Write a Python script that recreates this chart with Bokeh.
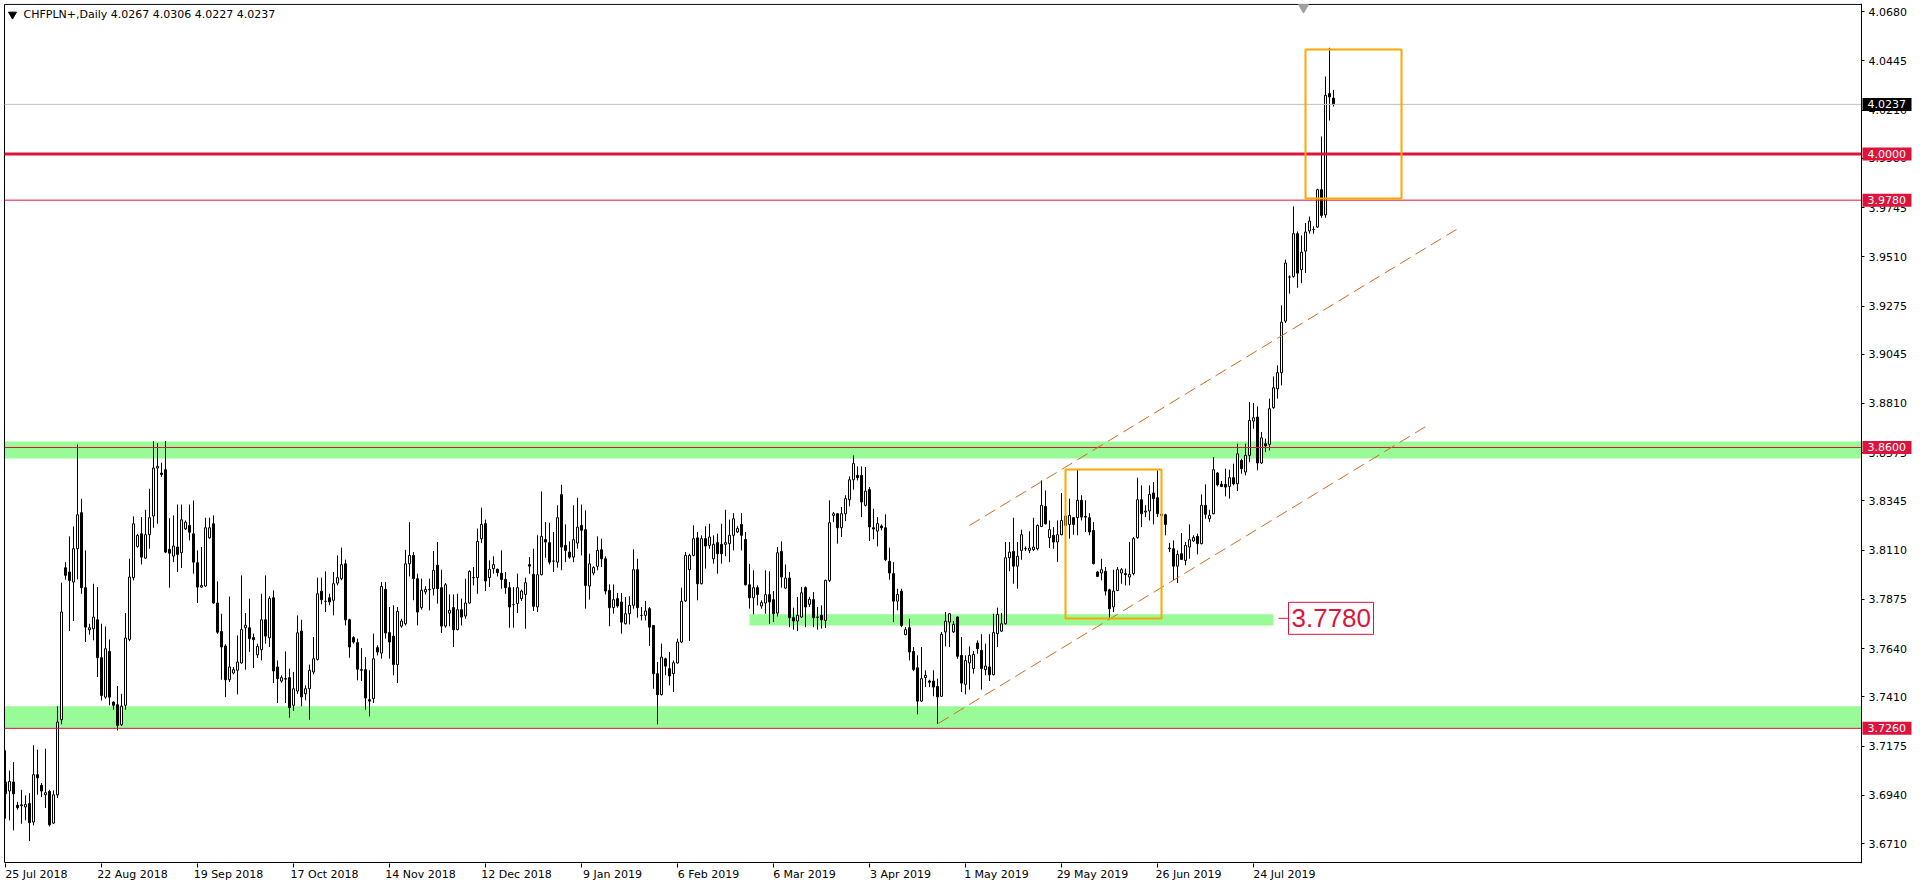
from bokeh.plotting import figure
from bokeh.models import (Range1d, FixedTicker, LinearAxis, BoxAnnotation, Label,
                          ColumnDataSource, PrintfTickFormatter)
from bokeh.core.properties import value
from bokeh.embed import file_html
from bokeh.resources import INLINE

# ---------------- data (CHFPLN+, Daily) ----------------
opens = [
    3.7004, 3.6961, 3.7004, 3.6893, 3.6895, 3.6885, 3.6901, 3.6813, 3.7039, 3.6988,
    3.6943, 3.6959, 3.6808, 3.6943, 3.7301, 3.8026, 3.8006, 3.7958, 3.8117, 3.8289,
    3.7931, 3.7730, 3.7735, 3.7778, 3.7597, 3.7409, 3.7627, 3.7385, 3.7373, 3.7277,
    3.7370, 3.7684, 3.7979, 3.8128, 3.8188, 3.8072, 3.8184, 3.8273, 3.8502, 3.8478,
    3.8494, 3.8114, 3.8082, 3.8125, 3.8098, 3.8212, 3.8228, 3.8188, 3.8050, 3.7934,
    3.7939, 3.8169, 3.8236, 3.7858, 3.7722, 3.7653, 3.7492, 3.7524, 3.7537, 3.7572,
    3.7740, 3.7740, 3.7693, 3.7611, 3.7635, 3.7778, 3.7692, 3.7883, 3.7553, 3.7486,
    3.7497, 3.7502, 3.7370, 3.7438, 3.7724, 3.7425, 3.7449, 3.7529, 3.7589, 3.7914,
    3.7866, 3.7883, 3.7871, 3.7953, 3.7974, 3.8045, 3.7778, 3.7693, 3.7669, 3.7540,
    3.7540, 3.7397, 3.7402, 3.7645, 3.7619, 3.7923, 3.7717, 3.7700, 3.7564, 3.7748,
    3.7759, 3.8045, 3.8085, 3.7974, 3.7836, 3.7911, 3.7921, 3.7926, 3.8038, 3.7931,
    3.7748, 3.7810, 3.7836, 3.7731, 3.7826, 3.7796, 3.7858, 3.7979, 3.7979, 3.8165,
    3.8237, 3.7979, 3.8022, 3.8019, 3.8000, 3.7971, 3.7931, 3.7850, 3.7855, 3.7879,
    3.7899, 3.8041, 3.7995, 3.7839, 3.7993, 3.8161, 3.8146, 3.8058, 3.8053, 3.8375,
    3.8133, 3.8101, 3.8077, 3.8144, 3.8228, 3.8208, 3.7939, 3.8001, 3.8033, 3.8112,
    3.8069, 3.7918, 3.7836, 3.7879, 3.7863, 3.7759, 3.7807, 3.7847, 3.8017, 3.7799,
    3.7799, 3.7831, 3.7751, 3.7521, 3.7421, 3.7592, 3.7545, 3.7521, 3.7572, 3.7672,
    3.7868, 3.8017, 3.8085, 3.8169, 3.7950, 3.8165, 3.8133, 3.8069, 3.8146, 3.8138,
    3.8138, 3.8141, 3.8181, 3.8197, 3.8233, 3.8161, 3.7945, 3.7883, 3.7931, 3.7844,
    3.7858, 3.7898, 3.7874, 3.7810, 3.8104, 3.7929, 3.7977, 3.7788, 3.7772, 3.7791,
    3.7931, 3.7852, 3.7874, 3.7791, 3.7799, 3.7775, 3.7966, 3.8276, 3.8284, 3.8217,
    3.8284, 3.8351, 3.8446, 3.8467, 3.8467, 3.8324, 3.8399, 3.8217, 3.8201, 3.8225,
    3.8217, 3.8057, 3.7998, 3.7867, 3.7914, 3.7707, 3.7740, 3.7627, 3.7549, 3.7390,
    3.7502, 3.7486, 3.7486, 3.7460, 3.7413, 3.7720, 3.7767, 3.7720, 3.7791, 3.7608,
    3.7470, 3.7572, 3.7545, 3.7667, 3.7632, 3.7540, 3.7553, 3.7516, 3.7712, 3.7724,
    3.7759, 3.8074, 3.8104, 3.8034, 3.8109, 3.8117, 3.8109, 3.8112, 3.8117, 3.8223,
    3.8319, 3.8170, 3.8181, 3.8149, 3.8184, 3.8228, 3.8233, 3.8265, 3.8265, 3.8348,
    3.8271, 3.8265, 3.8204, 3.8006, 3.8001, 3.8009, 3.7921, 3.7839, 3.7918, 3.8001,
    3.7998, 3.7982, 3.7998, 3.8170, 3.8351, 3.8292, 3.8297, 3.8383, 3.8360, 3.8281,
    3.8279, 3.8120, 3.8117, 3.8034, 3.8093, 3.8061, 3.8125, 3.8154, 3.8176, 3.8141,
    3.8324, 3.8260, 3.8284, 3.8478, 3.8424, 3.8424, 3.8414, 3.8456, 3.8427, 3.8538,
    3.8483, 3.8562, 3.8726, 3.8745, 3.8526, 3.8618, 3.8615, 3.8790, 3.8880, 3.8957,
    3.9203, 3.9413, 3.9416, 3.9620, 3.9448, 3.9537, 3.9633, 3.9640, 3.9652, 3.9830,
    3.9710, 4.0288, 4.0267,
]
highs = [
    3.7155, 3.7059, 3.7099, 3.6909, 3.6967, 3.6940, 3.6951, 3.7179, 3.7158, 3.6999,
    3.7163, 3.6967, 3.6964, 3.7365, 3.7955, 3.8053, 3.8176, 3.8223, 3.8614, 3.8355,
    3.8109, 3.7759, 3.7950, 3.7934, 3.7759, 3.7746, 3.7684, 3.7389, 3.7462, 3.7425,
    3.7810, 3.8069, 3.8271, 3.8188, 3.8268, 3.8303, 3.8403, 3.8630, 3.8621, 3.8527,
    3.8630, 3.8263, 3.8276, 3.8328, 3.8328, 3.8252, 3.8328, 3.8347, 3.8109, 3.8125,
    3.8265, 3.8265, 3.8276, 3.7961, 3.7807, 3.7661, 3.7889, 3.7553, 3.7703, 3.7990,
    3.7810, 3.7879, 3.7712, 3.7664, 3.7902, 3.7990, 3.7890, 3.7918, 3.7584, 3.7513,
    3.7627, 3.7545, 3.7529, 3.7799, 3.7778, 3.7465, 3.7564, 3.7696, 3.7979, 3.7979,
    3.8009, 3.7902, 3.8006, 3.8085, 3.8122, 3.8065, 3.7783, 3.7699, 3.7688, 3.7643,
    3.7600, 3.7537, 3.7712, 3.7656, 3.7958, 3.7958, 3.7839, 3.7847, 3.7839, 3.7783,
    3.8112, 3.8244, 3.8101, 3.7998, 3.7974, 3.7938, 3.7974, 3.8106, 3.8149, 3.8017,
    3.7953, 3.7899, 3.7899, 3.7902, 3.7879, 3.7974, 3.8014, 3.8030, 3.8213, 3.8313,
    3.8256, 3.8062, 3.8081, 3.8022, 3.8109, 3.8006, 3.7958, 3.7934, 3.7998, 3.7922,
    3.7979, 3.8077, 3.8117, 3.8181, 3.8390, 3.8244, 3.8241, 3.8197, 3.8324, 3.8422,
    3.8233, 3.8152, 3.8324, 3.8360, 3.8328, 3.8300, 3.8093, 3.8033, 3.8176, 3.8165,
    3.8081, 3.7947, 3.7947, 3.7906, 3.7906, 3.7887, 3.7890, 3.8114, 3.8069, 3.7839,
    3.7868, 3.7839, 3.7751, 3.7577, 3.7664, 3.7597, 3.7624, 3.7584, 3.7688, 3.7931,
    3.8101, 3.8093, 3.8229, 3.8197, 3.8181, 3.8224, 3.8236, 3.8181, 3.8189, 3.8236,
    3.8303, 3.8256, 3.8287, 3.8224, 3.8287, 3.8197, 3.8045, 3.8014, 3.7942, 3.7871,
    3.8014, 3.8010, 3.7915, 3.8125, 3.8152, 3.8042, 3.8006, 3.7836, 3.7887, 3.7934,
    3.7937, 3.7887, 3.7910, 3.7839, 3.7847, 3.7969, 3.8348, 3.8292, 3.8287, 3.8316,
    3.8372, 3.8462, 3.8562, 3.8510, 3.8510, 3.8507, 3.8411, 3.8308, 3.8268, 3.8233,
    3.8281, 3.8122, 3.8053, 3.7926, 3.7926, 3.7743, 3.7783, 3.7648, 3.7608, 3.7648,
    3.7537, 3.7492, 3.7537, 3.7497, 3.7720, 3.7815, 3.7810, 3.7772, 3.7794, 3.7696,
    3.7608, 3.7651, 3.7629, 3.7680, 3.7709, 3.7664, 3.7709, 3.7807, 3.7836, 3.7810,
    3.8149, 3.8149, 3.8265, 3.8149, 3.8208, 3.8128, 3.8200, 3.8265, 3.8233, 3.8443,
    3.8395, 3.8252, 3.8220, 3.8252, 3.8383, 3.8297, 3.8356, 3.8268, 3.8494, 3.8372,
    3.8348, 3.8287, 3.8244, 3.8010, 3.8069, 3.8030, 3.7926, 3.8017, 3.8030, 3.8025,
    3.8022, 3.8149, 3.8173, 3.8456, 3.8419, 3.8324, 3.8419, 3.8435, 3.8491, 3.8287,
    3.8284, 3.8144, 3.8157, 3.8109, 3.8192, 3.8149, 3.8233, 3.8181, 3.8189, 3.8376,
    3.8424, 3.8303, 3.8554, 3.8483, 3.8440, 3.8499, 3.8494, 3.8523, 3.8618, 3.8546,
    3.8618, 3.8817, 3.8812, 3.8796, 3.8674, 3.8642, 3.8833, 3.8939, 3.8992, 3.9278,
    3.9496, 3.9421, 3.9750, 3.9631, 3.9612, 3.9671, 3.9702, 3.9655, 3.9834, 4.0084,
    4.0370, 4.0507, 4.0306,
]
lows = [
    3.6829, 3.6821, 3.6773, 3.6872, 3.6805, 3.6821, 3.6722, 3.6797, 3.6943, 3.6932,
    3.6880, 3.6792, 3.6805, 3.6928, 3.7279, 3.7969, 3.7724, 3.7772, 3.7971, 3.7902,
    3.7672, 3.7707, 3.7680, 3.7505, 3.7393, 3.7401, 3.7370, 3.7349, 3.7250, 3.7271,
    3.7349, 3.7676, 3.7966, 3.8122, 3.8042, 3.8069, 3.8117, 3.8217, 3.8236, 3.8459,
    3.8096, 3.7931, 3.8053, 3.8006, 3.8025, 3.8207, 3.8157, 3.7998, 3.7858, 3.7931,
    3.7934, 3.8165, 3.7855, 3.7711, 3.7492, 3.7409, 3.7481, 3.7518, 3.7422, 3.7569,
    3.7540, 3.7625, 3.7548, 3.7596, 3.7584, 3.7664, 3.7648, 3.7476, 3.7381, 3.7478,
    3.7381, 3.7311, 3.7343, 3.7425, 3.7365, 3.7394, 3.7301, 3.7518, 3.7584, 3.7852,
    3.7815, 3.7847, 3.7799, 3.7942, 3.7966, 3.7751, 3.7597, 3.7664, 3.7489, 3.7486,
    3.7349, 3.7317, 3.7381, 3.7608, 3.7592, 3.7688, 3.7592, 3.7513, 3.7476, 3.7740,
    3.7751, 3.7985, 3.7871, 3.7751, 3.7826, 3.7899, 3.7823, 3.7894, 3.7855, 3.7715,
    3.7740, 3.7747, 3.7648, 3.7728, 3.7751, 3.7783, 3.7855, 3.7942, 3.7902, 3.8144,
    3.7915, 3.7934, 3.7998, 3.7985, 3.7926, 3.7902, 3.7740, 3.7740, 3.7810, 3.7868,
    3.7735, 3.7998, 3.7820, 3.7815, 3.7990, 3.8074, 3.8042, 3.8006, 3.8027, 3.8014,
    3.8053, 3.8069, 3.8053, 3.8117, 3.8085, 3.7831, 3.7874, 3.7990, 3.8014, 3.8030,
    3.7899, 3.7747, 3.7807, 3.7836, 3.7712, 3.7756, 3.7756, 3.7831, 3.7788, 3.7775,
    3.7775, 3.7653, 3.7449, 3.7279, 3.7417, 3.7513, 3.7465, 3.7433, 3.7569, 3.7667,
    3.7863, 3.7677, 3.8081, 3.7871, 3.7947, 3.8022, 3.8117, 3.8046, 3.7998, 3.8046,
    3.8081, 3.8053, 3.8109, 3.8192, 3.8109, 3.7942, 3.7831, 3.7804, 3.7847, 3.7831,
    3.7807, 3.7759, 3.7767, 3.7794, 3.7931, 3.7926, 3.7743, 3.7731, 3.7724, 3.7788,
    3.7743, 3.7839, 3.7743, 3.7731, 3.7736, 3.7739, 3.7958, 3.8244, 3.8141, 3.8173,
    3.8249, 3.8319, 3.8399, 3.8443, 3.8268, 3.8319, 3.8154, 3.8162, 3.8128, 3.8205,
    3.8058, 3.7969, 3.7767, 3.7823, 3.7743, 3.7704, 3.7584, 3.7533, 3.7327, 3.7386,
    3.7457, 3.7457, 3.7413, 3.7282, 3.7410, 3.7651, 3.7648, 3.7715, 3.7592, 3.7433,
    3.7422, 3.7445, 3.7521, 3.7616, 3.7445, 3.7513, 3.7486, 3.7513, 3.7648, 3.7720,
    3.7756, 3.8010, 3.7950, 3.7926, 3.8064, 3.8106, 3.8096, 3.8106, 3.8109, 3.8220,
    3.8233, 3.8120, 3.8117, 3.8054, 3.8181, 3.8181, 3.8165, 3.8184, 3.8181, 3.8252,
    3.8197, 3.8181, 3.8042, 3.7982, 3.7966, 3.7894, 3.7778, 3.7815, 3.7915, 3.7950,
    3.7942, 3.7942, 3.7990, 3.8165, 3.8220, 3.8268, 3.8252, 3.8233, 3.8268, 3.8265,
    3.8181, 3.8101, 3.7966, 3.7953, 3.8064, 3.8038, 3.8069, 3.8149, 3.8090, 3.8138,
    3.8260, 3.8244, 3.8281, 3.8414, 3.8411, 3.8367, 3.8356, 3.8419, 3.8392, 3.8475,
    3.8467, 3.8530, 3.8689, 3.8491, 3.8522, 3.8578, 3.8586, 3.8785, 3.8833, 3.8896,
    3.9194, 3.9334, 3.9410, 3.9362, 3.9384, 3.9432, 3.9620, 3.9620, 3.9648, 3.9696,
    3.9696, 4.0160, 4.0227,
]
closes = [
    3.6948, 3.7007, 3.6948, 3.6882, 3.6891, 3.6897, 3.6810, 3.7039, 3.7024, 3.6961,
    3.6953, 3.6800, 3.6943, 3.7290, 3.7815, 3.7990, 3.7966, 3.8117, 3.8279, 3.7931,
    3.7743, 3.7740, 3.7791, 3.7597, 3.7417, 3.7640, 3.7409, 3.7370, 3.7274, 3.7366,
    3.7691, 3.7982, 3.8236, 3.8180, 3.8077, 3.8184, 3.8265, 3.8502, 3.8510, 3.8471,
    3.8101, 3.8096, 3.8130, 3.8090, 3.8255, 3.8244, 3.8196, 3.8053, 3.7934, 3.7942,
    3.8217, 3.8217, 3.7858, 3.7719, 3.7648, 3.7492, 3.7553, 3.7540, 3.7576, 3.7731,
    3.7752, 3.7688, 3.7683, 3.7651, 3.7778, 3.7700, 3.7879, 3.7534, 3.7497, 3.7502,
    3.7495, 3.7359, 3.7449, 3.7716, 3.7410, 3.7449, 3.7537, 3.7592, 3.7902, 3.7874,
    3.7866, 3.7863, 3.7950, 3.7979, 3.8041, 3.7778, 3.7648, 3.7672, 3.7542, 3.7537,
    3.7405, 3.7390, 3.7592, 3.7624, 3.7937, 3.7715, 3.7672, 3.7565, 3.7818, 3.7772,
    3.8045, 3.8085, 3.7974, 3.7815, 3.7919, 3.7923, 3.7923, 3.8014, 3.7926, 3.7748,
    3.7945, 3.7823, 3.7731, 3.7826, 3.7791, 3.7858, 3.8009, 3.7980, 3.8152, 3.8233,
    3.7963, 3.8019, 3.8041, 3.8003, 3.7970, 3.7931, 3.7839, 3.7850, 3.7931, 3.7915,
    3.7955, 3.8034, 3.7842, 3.7993, 3.8176, 3.8149, 3.8053, 3.8058, 3.8265, 3.8125,
    3.8109, 3.8077, 3.8160, 3.8220, 3.8205, 3.7942, 3.8045, 3.8027, 3.8109, 3.8069,
    3.7915, 3.7836, 3.7874, 3.7844, 3.7767, 3.7807, 3.7847, 3.8017, 3.7836, 3.7799,
    3.7820, 3.7743, 3.7521, 3.7421, 3.7600, 3.7557, 3.7510, 3.7573, 3.7672, 3.7866,
    3.8085, 3.8085, 3.8165, 3.7950, 3.8165, 3.8130, 3.8173, 3.8138, 3.8093, 3.8093,
    3.8146, 3.8181, 3.8260, 3.8213, 3.8181, 3.7945, 3.7883, 3.7931, 3.7899, 3.7860,
    3.7898, 3.7863, 3.7807, 3.8098, 3.7982, 3.7977, 3.7788, 3.7772, 3.7799, 3.7907,
    3.7839, 3.7876, 3.7788, 3.7790, 3.7778, 3.7966, 3.8241, 3.8284, 3.8217, 3.8284,
    3.8356, 3.8446, 3.8523, 3.8456, 3.8340, 3.8392, 3.8221, 3.8211, 3.8237, 3.8217,
    3.8065, 3.8001, 3.7867, 3.7899, 3.7751, 3.7731, 3.7624, 3.7541, 3.7390, 3.7497,
    3.7513, 3.7480, 3.7457, 3.7410, 3.7709, 3.7771, 3.7807, 3.7756, 3.7604, 3.7476,
    3.7584, 3.7608, 3.7613, 3.7640, 3.7545, 3.7557, 3.7516, 3.7717, 3.7804, 3.7759,
    3.8074, 3.8101, 3.8034, 3.8081, 3.8184, 3.8117, 3.8120, 3.8125, 3.8228, 3.8324,
    3.8236, 3.8208, 3.8149, 3.8184, 3.8252, 3.8273, 3.8276, 3.8233, 3.8348, 3.8268,
    3.8268, 3.8197, 3.8046, 3.7985, 3.8017, 3.7915, 3.7831, 3.7915, 3.8017, 3.8017,
    3.7993, 3.7995, 3.8165, 3.8351, 3.8284, 3.8297, 3.8376, 3.8356, 3.8284, 3.8276,
    3.8233, 3.8117, 3.8034, 3.8090, 3.8066, 3.8133, 3.8160, 3.8170, 3.8141, 3.8324,
    3.8281, 3.8276, 3.8494, 3.8422, 3.8414, 3.8411, 3.8456, 3.8427, 3.8570, 3.8499,
    3.8562, 3.8729, 3.8742, 3.8526, 3.8646, 3.8608, 3.8785, 3.8885, 3.8957, 3.9198,
    3.9480, 3.9413, 3.9620, 3.9432, 3.9532, 3.9628, 3.9680, 3.9640, 3.9830, 3.9707,
    4.0280, 4.0272, 4.0237,
]

date_labels = ["25 Jul 2018", "22 Aug 2018", "19 Sep 2018", "17 Oct 2018", "14 Nov 2018",
               "12 Dec 2018", "9 Jan 2019", "6 Feb 2019", "6 Mar 2019", "3 Apr 2019",
               "1 May 2019", "29 May 2019", "26 Jun 2019", "24 Jul 2019"]
date_bars = [0, 24, 48, 72, 96, 120, 144, 168, 192, 216, 240, 264, 288, 312]

price_ticks = [3.6710, 3.6940, 3.7175, 3.7410, 3.7640, 3.7875, 3.8110, 3.8345, 3.8575,
               3.8810, 3.9045, 3.9275, 3.9510, 3.9745, 3.9980, 4.0210, 4.0445, 4.0680]

title_text = "CHFPLN+,Daily  4.0267 4.0306 4.0227 4.0237"

# horizontal levels drawn on the chart
red_levels = [4.0000, 3.9780, 3.8600, 3.7260]
red_widths = [3, 1, 1, 1]
bid_price = 4.0237

# support zones (price bottom, price top)
zone_bottoms = [3.8548, 3.7262]
zone_tops = [3.8629, 3.7366]
mid_zone = dict(left=186, right=317, bottom=3.7751, top=3.7804)
mid_level_text = "3.7780"
mid_level_price = 3.7785

# orange rectangles (bar from, bar to, price top, price bottom)
box_left = [325, 265]
box_right = [349, 289]
box_top = [4.0499, 3.8495]
box_bottom = [3.9788, 3.7784]

# rising channel (bar, price)
chan_upper_x = [241, 364]
chan_upper_y = [3.8228, 3.9655]
chan_lower_x = [233.25, 355.5]
chan_lower_y = [3.7284, 3.8705]

# chart window (bars / prices covered by the candle area)
first_bar, last_bar = -0.25, 464.0
low_price, high_price = 3.6620, 4.0714

# ---------------- figure ----------------
FONT = "DejaVu Sans"
CRIMSON = "#DC143C"

n = len(closes)
assert len(opens) == n and len(highs) == n and len(lows) == n
idx = list(range(n))
src = ColumnDataSource(dict(
    x=idx, h=highs, l=lows,
    top=[max(o, c) for o, c in zip(opens, closes)],
    bot=[min(o, c) for o, c in zip(opens, closes)],
    fill=["white" if c >= o else "black" for o, c in zip(opens, closes)],
))

px_bar = 4.0          # pixels per bar
px_unit = 2096.0      # pixels per price unit
x0 = first_bar - 1 / px_bar
y0 = low_price - 1 / px_unit

p = figure(width=1915, height=886, output_backend="svg", toolbar_location=None,
           x_range=Range1d(x0, x0 + 1912 / px_bar), y_range=Range1d(y0, y0 + 860 / px_unit),
           y_axis_location="right", min_border_left=3, min_border_top=3,
           min_border_right=0, min_border_bottom=23)
p.outline_line_color = None
p.grid.visible = False
p.background_fill_color = "white"
p.border_fill_color = "white"

# y axis drawn at the right edge of the candle area
yax = p.yaxis[0]
yax.fixed_location = last_bar
yax.ticker = FixedTicker(ticks=price_ticks)
yax.formatter = PrintfTickFormatter(format="%.4f")
yax.major_tick_out = 3
yax.major_tick_in = 0
yax.minor_tick_line_color = None
yax.major_label_standoff = 4
yax.major_label_text_font = FONT
yax.major_label_text_font_size = "11px"
yax.major_label_text_color = "black"
yax.axis_line_color = "black"

# x axis: tick marks only
xax = p.xaxis[0]
xax.ticker = FixedTicker(ticks=date_bars)
xax.major_label_overrides = {b: "" for b in date_bars}
xax.major_label_text_font_size = "1px"
xax.major_label_standoff = 0
xax.major_tick_out = 4
xax.major_tick_in = 0
xax.minor_tick_line_color = None
xax.axis_line_color = None

# x axis: date labels, left-aligned to the ticks by a shifted range
shift = 7.75
p.extra_x_ranges = {"dates": Range1d(x0 - shift, x0 + 1912 / px_bar - shift)}
dax = LinearAxis(x_range_name="dates", ticker=FixedTicker(ticks=date_bars),
                 major_label_overrides={b: t for b, t in zip(date_bars, date_labels)},
                 axis_line_color=None, major_tick_line_color=None,
                 minor_tick_line_color=None, major_tick_out=0, major_tick_in=0,
                 major_label_standoff=0, major_label_text_font=FONT,
                 major_label_text_font_size="11px", major_label_text_color="black")
p.add_layout(dax, "below")

# support zones
for b, t in zip(zone_bottoms, zone_tops):
    p.add_layout(BoxAnnotation(bottom=b, top=t, right=last_bar, fill_color="#98FB98",
                               fill_alpha=1.0, line_color=None, level="underlay"))
p.add_layout(BoxAnnotation(left=mid_zone["left"], right=mid_zone["right"],
                           bottom=mid_zone["bottom"], top=mid_zone["top"],
                           fill_color="#98FB98", fill_alpha=1.0, line_color=None,
                           level="underlay"))

# chart border (left, top, bottom)
p.segment(x0=[first_bar, first_bar, first_bar], y0=[low_price, high_price, low_price],
          x1=[first_bar, last_bar, last_bar], y1=[high_price, high_price, low_price],
          line_color="black", line_width=1)

# candles
p.segment(x0="x", y0="l", x1="x", y1="h", source=src, line_color="black", line_width=1)
p.vbar(x="x", width=0.5, top="top", bottom="bot", source=src,
       fill_color="fill", line_color="black", line_width=1)

# horizontal lines (end at the price scale)
p.segment(x0=[first_bar], y0=[bid_price], x1=[last_bar], y1=[bid_price],
          line_color="#C0C0C0", line_width=1)
for lv, lw in zip(red_levels, red_widths):
    p.segment(x0=[first_bar], y0=[lv], x1=[last_bar], y1=[lv], line_color=CRIMSON, line_width=lw)

# channel
p.line(chan_upper_x, chan_upper_y, line_color="#D2691E", line_width=1, line_dash="12 6")
p.line(chan_lower_x, chan_lower_y, line_color="#D2691E", line_width=1, line_dash="12 6")

# orange boxes
p.quad(left=box_left, right=box_right, top=box_top, bottom=box_bottom,
       fill_color=None, line_color="#FFA500", line_width=2)

# 3.7780 label with leader
p.segment(x0=[318.25], y0=[mid_level_price], x1=[320.6], y1=[mid_level_price],
          line_color=CRIMSON, line_width=1)
p.rect(x=[331.375], y=[mid_level_price], width=85, height=32,
       width_units="screen", height_units="screen",
       fill_color="white", line_color=CRIMSON, line_width=1)
p.text(x=[321.5], y=[mid_level_price], text=[mid_level_text],
       text_font=value("Liberation Sans"), text_font_size="26px",
       text_color=CRIMSON, text_baseline="middle", text_align="left")

# title
p.scatter([1.75], [4.0666], marker="inverted_triangle", size=8, color="black")
p.add_layout(Label(x=4.5, y=4.0666, text=title_text, text_font=FONT,
                   text_font_size="11px", text_color="black",
                   text_baseline="middle", text_align="left"))
# chart-shift marker
p.scatter([324.5], [4.0700], marker="inverted_triangle", size=10, color="#A0A0A0")

# price boxes on the price scale (drawn above the axis labels)
box_prices = [bid_price] + red_levels
box_fills = ["black"] + [CRIMSON] * len(red_levels)
box_texts = ["%.4f" % v for v in box_prices]
p.rect(x=[last_bar + 6.375] * len(box_prices), y=box_prices, width=49, height=13,
       width_units="screen", height_units="screen",
       fill_color=box_fills, line_color=None, level="annotation")
p.text(x=[last_bar + 1.5] * len(box_prices), y=box_prices, text=box_texts,
       text_font=value(FONT), text_font_size="11px", text_color="white",
       text_baseline="middle", text_align="left", level="annotation")

open("out.html", "w").write(file_html(p, INLINE))
